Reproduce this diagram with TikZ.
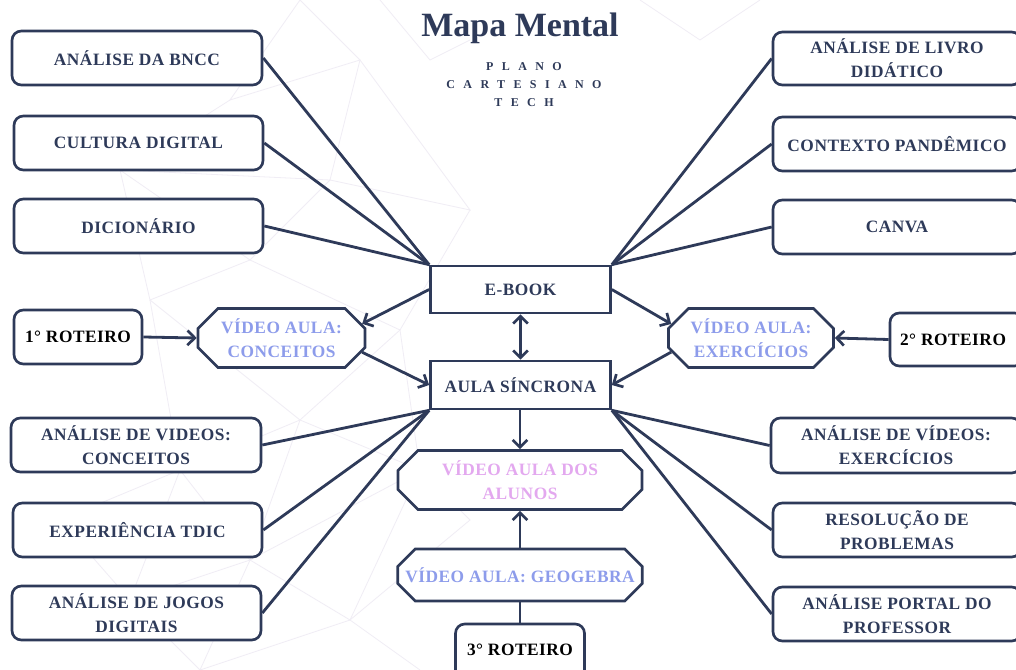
\documentclass[tikz,border=0pt]{standalone}
\usepackage{fontspec}
\setmainfont{Liberation Serif}
\newfontfamily\boxfont[LetterSpace=3]{Liberation Serif}
\newfontfamily\subfont[LetterSpace=70]{Liberation Serif}
\usetikzlibrary{shapes.misc, arrows.meta}

\definecolor{navy}{HTML}{2E3A59}
\definecolor{peri}{HTML}{8D9CEB}
\definecolor{orchid}{HTML}{E3A8EF}
\definecolor{mesh}{HTML}{F0EDF5}

\tikzset{
  sz/.style 2 args={minimum width=#1*0.75pt, minimum height=#2*0.75pt},
  base/.style={draw=navy, line width=2pt, fill=white, inner sep=0pt,
    align=center, text=navy, font=\boxfont\bfseries\fontsize{13}{18}\selectfont},
  card/.style={base, rounded corners=7pt},
  plain/.style={base},
  octo/.style={base, chamfered rectangle, chamfered rectangle xsep=7.5pt,
    chamfered rectangle ysep=7.5pt, text=peri},
  link/.style={draw=navy, line width=2.1pt},
  arr/.style={link, -{Straight Barb[length=5.5pt,width=11pt,line width=2pt]}},
  dbl/.style={link, {Straight Barb[length=5.5pt,width=11pt,line width=2pt]}-{Straight Barb[length=5.5pt,width=11pt,line width=2pt]}},
}

\begin{document}
\begin{tikzpicture}[x=0.75pt,y=-0.75pt]
\useasboundingbox (0,0) rectangle (1016,670);
\clip (0,0) rectangle (1016,670);
\fill[white] (0,0) rectangle (1016,670);

% faint polygon mesh in the background
\begin{scope}[draw=mesh, line width=0.6pt]
  \draw (300,0) -- (360,60) -- (230,100) -- cycle;
  \draw (230,100) -- (120,170) -- (330,180) -- (360,60);
  \draw (330,180) -- (470,210) -- (360,60);
  \draw (120,170) -- (250,260) -- (330,180);
  \draw (250,260) -- (150,300) -- (120,170);
  \draw (250,260) -- (400,330) -- (470,210);
  \draw (150,300) -- (300,420) -- (400,330);
  \draw (300,420) -- (180,470) -- (150,300);
  \draw (300,420) -- (420,470) -- (400,330);
  \draw (180,470) -- (250,560) -- (300,420);
  \draw (420,470) -- (250,560) -- (130,600) -- (180,470);
  \draw (250,560) -- (350,620) -- (420,470);
  \draw (350,620) -- (470,520) -- (420,470);
  \draw (130,600) -- (60,520) -- (180,470);
  \draw (130,600) -- (200,670) -- (250,560);
  \draw (350,620) -- (200,670);
  \draw (350,620) -- (420,670);
  \draw (380,0) -- (430,60) -- (470,40);
  \draw (640,0) -- (700,40) -- (760,0);
\end{scope}

% title
\node[text=navy, font=\bfseries\fontsize{25.5}{30}\selectfont] (title) at (520,28) {Mapa Mental};
\node[text=navy, align=center, font=\subfont\bfseries\fontsize{9}{13.5}\selectfont] (subtitle) at (524,85) {PLANO\\CARTESIANO\\TECH};

% left column
\node[card, sz={250}{54}] (bncc) at (137,58) {ANÁLISE DA BNCC};
\node[card, sz={249}{54}] (cult) at (138.5,143) {CULTURA DIGITAL};
\node[card, sz={249}{54}] (dic) at (138.5,226) {DICIONÁRIO};
\node[card, sz={128}{54}, text=black] (rot1) at (78,337) {1° ROTEIRO};
\node[octo, sz={167}{50}] (vconc) at (281.5,338) {VÍDEO AULA:\\CONCEITOS};
\node[card, sz={250}{54}] (vidc) at (136,445) {ANÁLISE DE VIDEOS:\\CONCEITOS};
\node[card, sz={249}{54}] (tdic) at (137.5,530) {EXPERIÊNCIA TDIC};
\node[card, sz={249}{54}] (jogos) at (136.5,613) {ANÁLISE DE JOGOS\\DIGITAIS};

% centre column
\node[plain, sz={180}{47}] (ebook) at (520.5,289.5) {E-BOOK};
\node[plain, sz={180}{48}] (aula) at (520.5,385) {AULA SÍNCRONA};
\node[octo, sz={244}{52}, text=orchid] (alunos) at (520,480) {VÍDEO AULA DOS\\ALUNOS};
\node[octo, sz={244}{52}] (geo) at (520,575) {VÍDEO AULA: GEOGEBRA};
\node[card, sz={129}{56}, text=black] (rot3) at (520,652) {\raisebox{4pt}{3° ROTEIRO}};

% right column
\node[card, sz={248}{53}] (livro) at (897,58.5) {ANÁLISE DE LIVRO\\DIDÁTICO};
\node[card, sz={248}{54}] (contexto) at (897,144) {CONTEXTO PANDÊMICO};
\node[card, sz={248}{54}] (canva) at (897,227) {CANVA};
\node[octo, sz={165}{51}] (vexer) at (751,338) {VÍDEO AULA:\\EXERCÍCIOS};
\node[card, sz={134}{53}, text=black] (rot2) at (957,339.5) {\hspace*{-6pt}2° ROTEIRO};
\node[card, sz={250}{55}] (videx) at (896,445.5) {ANÁLISE DE VÍDEOS:\\EXERCÍCIOS};
\node[card, sz={248}{54}] (resol) at (897,530) {RESOLUÇÃO DE\\PROBLEMAS};
\node[card, sz={248}{54}] (portal) at (897,614) {ANÁLISE PORTAL DO\\PROFESSOR};

% lines into E-BOOK
\draw[link] (bncc.east) -- (ebook.north west);
\draw[link] (cult.east) -- (ebook.north west);
\draw[link] (dic.east) -- (ebook.north west);
\draw[link] (livro.west) -- (ebook.north east);
\draw[link] (contexto.west) -- (ebook.north east);
\draw[link] (canva.west) -- (ebook.north east);

% lines out of AULA SÍNCRONA
\draw[link] (vidc.east) -- (aula.south west);
\draw[link] (tdic.east) -- (aula.south west);
\draw[link] (jogos.east) -- (aula.south west);
\draw[link] (videx.west) -- (aula.south east);
\draw[link] (resol.west) -- (aula.south east);
\draw[link] (portal.west) -- (aula.south east);

% arrows
\draw[arr] (rot1.east) -- (vconc.west);
\draw[arr] (ebook.west) -- (vconc.10);
\draw[arr] (vconc.-10) -- (aula.west);
\draw[arr] (rot2.west) -- (vexer.east);
\draw[arr] (ebook.east) -- (vexer.170);
\draw[arr] (vexer.190) -- (aula.east);
\draw[dbl] (ebook.south) -- (aula.north);
\draw[arr] (aula.south -| alunos.north) -- (alunos.north);
\draw[arr] (geo.north) -- (alunos.south);
\draw[link] (rot3.north) -- (geo.south);
\end{tikzpicture}
\end{document}
